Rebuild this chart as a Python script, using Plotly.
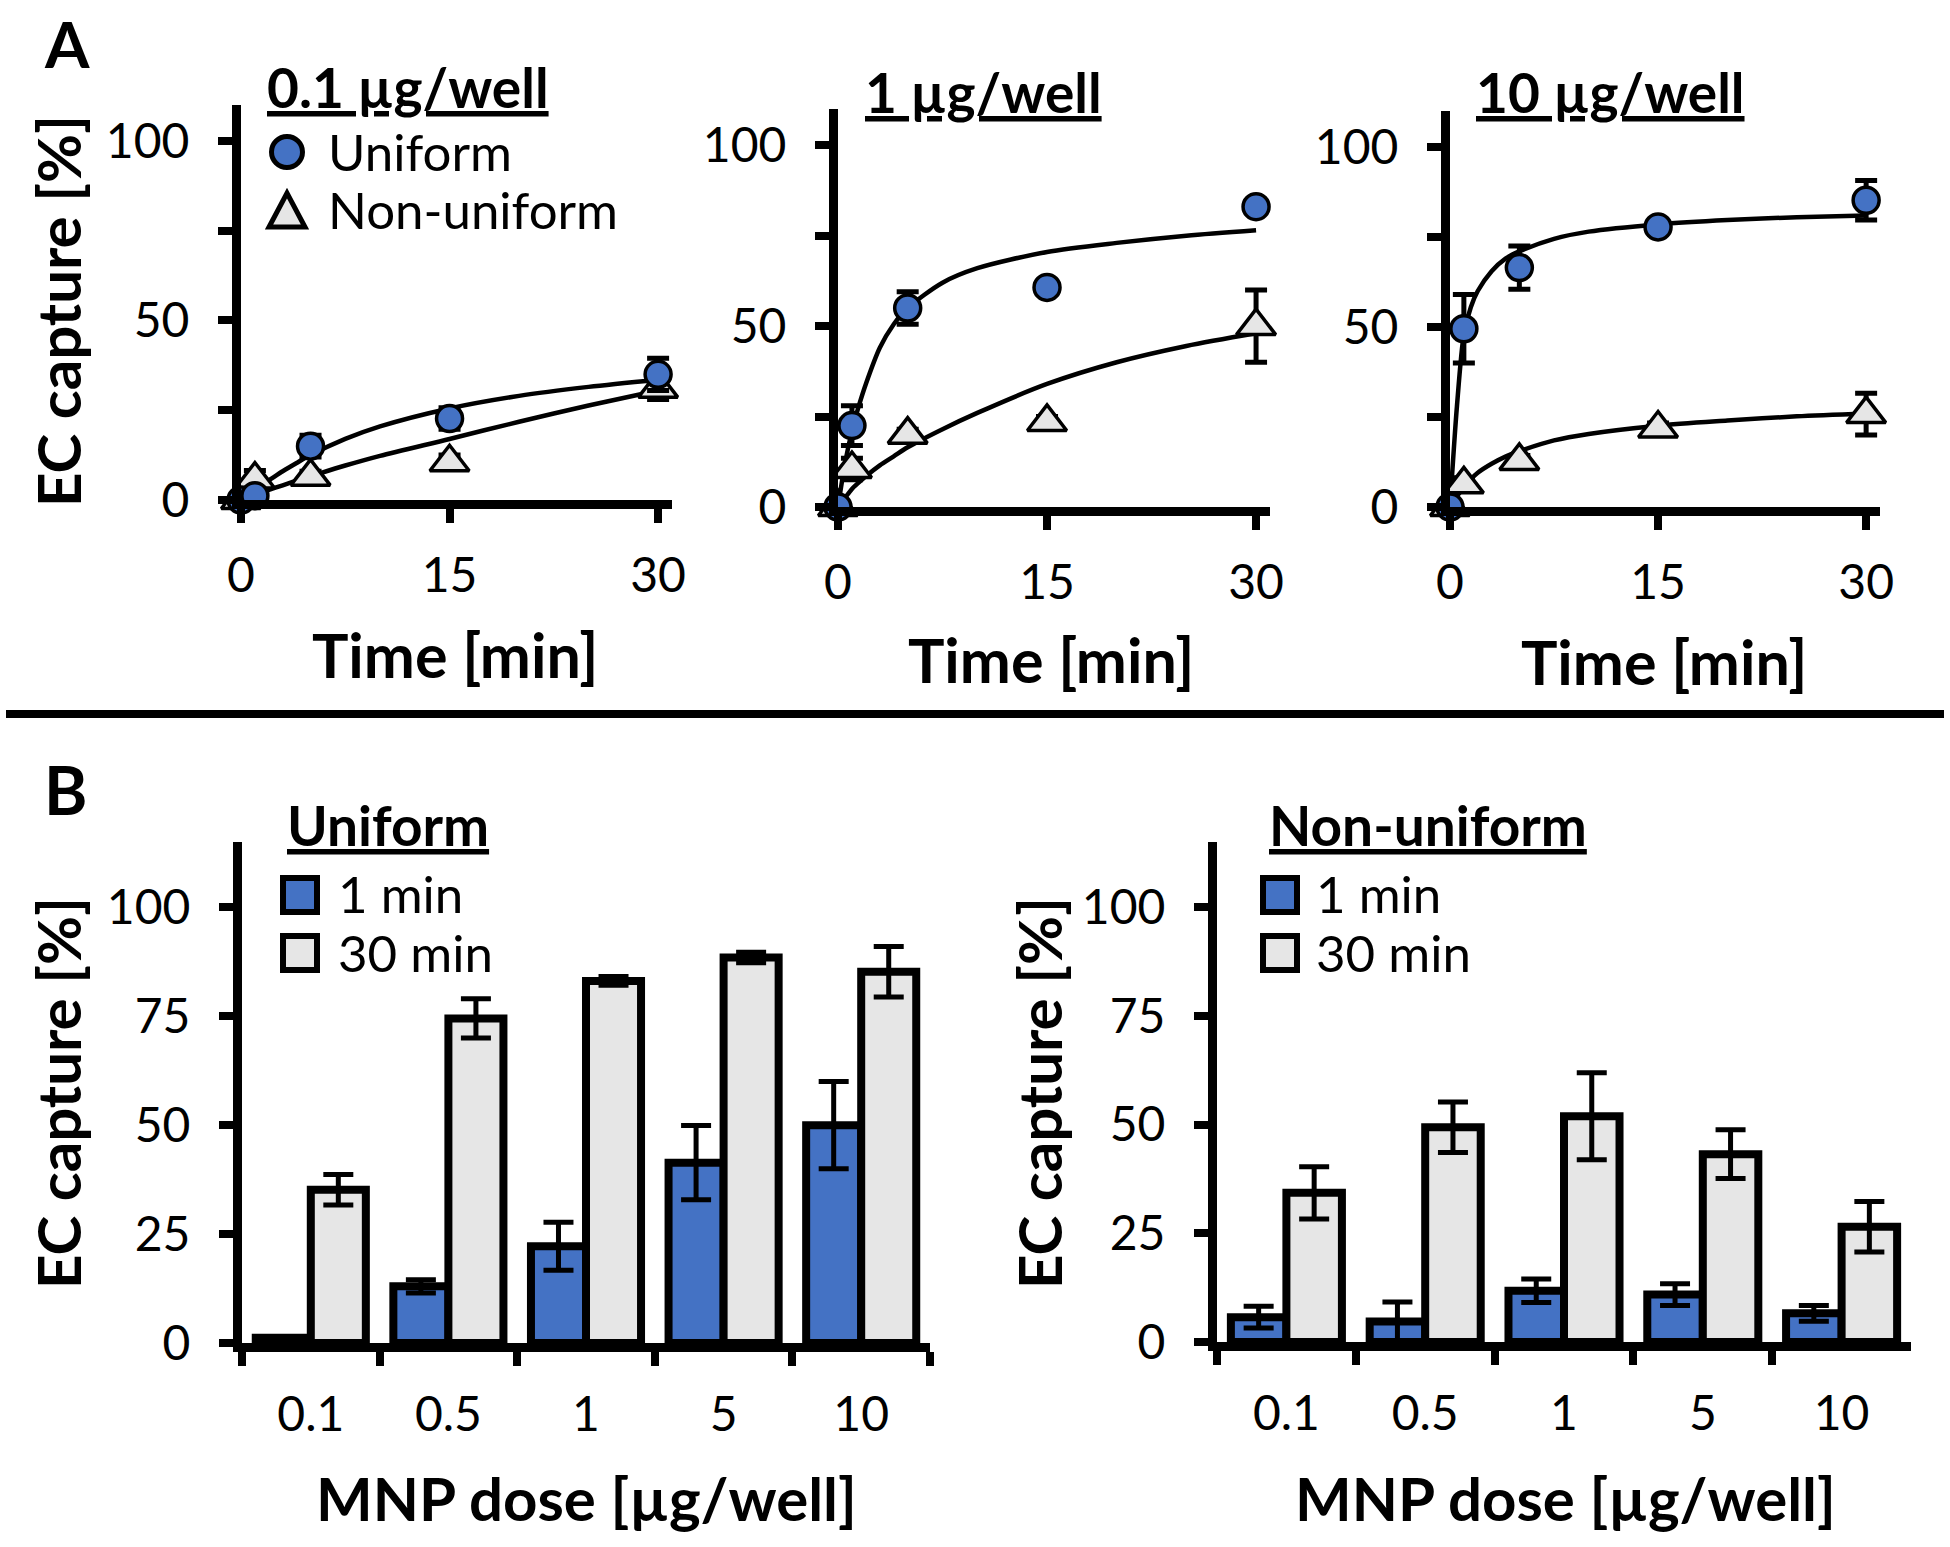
import plotly.graph_objects as go

W, H = 1950, 1547
FONT = "Lato"
BLUE = "#4472C4"
GREY = "#E6E6E6"

# ---------------- data: panel A (time courses) ----------------
t_pts = [0, 1, 5, 15, 30]
t_fit = [0, 0.5, 1, 1.5, 2, 3, 4, 5, 7.5, 10, 15, 20, 25, 30]

a1_uni = [0, 1.2, 15, 22.7, 35]
a1_uni_err = [0, 0.5, 3, 3, 4.5]
a1_non = [0, 5.7, 6.5, 10.5, 31]
a1_non_err = [0, 2.5, 1.5, 2, 3]
a1_uni_fit = [0, 1.6, 3, 4.3, 5.5, 8, 10.3, 12.5, 17, 20.5, 25.5, 29, 31.5, 33.5]
a1_non_fit = [0, 0.7, 1.4, 2.1, 2.8, 4.1, 5.4, 6.6, 9.6, 12.3, 17, 21.8, 26.3, 30.5]

a2_uni = [0, 22.5, 55, 60.7, 83]
a2_uni_err = [0, 5.5, 4.5, 1, 1]
a2_non = [0, 10.5, 20, 23.5, 50]
a2_non_err = [0, 3, 1.5, 1.5, 10]
a2_uni_fit = [0, 12, 21, 28, 34, 44, 50.5, 55, 62, 66, 70.5, 73, 75, 76.5]
a2_non_fit = [0, 2.5, 5, 6.8, 8.5, 11.5, 14, 16.5, 21.5, 26, 34, 40, 44.5, 48]

a3_uni = [0, 49.5, 66.5, 77.8, 85.2]
a3_uni_err = [0, 9.5, 6, 2, 5.5]
a3_non = [0, 6.3, 12.8, 21.8, 25.8]
a3_non_err = [0, 1.8, 1.5, 1.5, 5.8]
a3_uni_fit = [0, 28, 48, 55.5, 60, 65.5, 69, 71, 74.5, 76.5, 78.5, 79.7, 80.5, 81]
a3_non_fit = [0, 3, 5.5, 7.7, 9.5, 12, 14, 15.5, 18.5, 20.3, 22.6, 24, 25.2, 26]

a_titles = ["0.1 µg/well", "1 µg/well", "10 µg/well"]
a_xticks = [0, 15, 30]
a_yticks = [0, 25, 50, 75, 100]
a_yticktext = ["0", "", "50", "", "100"]

# ---------------- data: panel B (bars) ----------------
doses = ["0.1", "0.5", "1", "5", "10"]
b_uni_1 = [1.2, 13, 22.2, 41.4, 50]
b_uni_1_err = [0.3, 1.5, 5.5, 8.5, 10]
b_uni_30 = [35.2, 74.5, 83.1, 88.5, 85.2]
b_uni_30_err = [3.5, 4.5, 1, 1.2, 5.8]
b_non_1 = [5.7, 4.7, 11.8, 10.9, 6.6]
b_non_1_err = [2.5, 4.5, 2.7, 2.5, 1.8]
b_non_30 = [34.3, 49.4, 51.9, 43.2, 26.5]
b_non_30_err = [6, 5.8, 10, 5.6, 5.8]
b_titles = ["Uniform", "Non-uniform"]
b_yticks = [0, 25, 50, 75, 100]


def X(px):
    return px / W


def Y(py):
    return 1 - py / H


fig = go.Figure()

# layout geometry (pixels)
a_dom = [  # (left, right, top, bottom)
    (241, 672, 105, 500),
    (838, 1270, 109, 507),
    (1450, 1880, 111, 507),
]
b_dom = [
    (242, 930, 842, 1343),
    (1217, 1911, 842, 1342),
]

axis_common = dict(
    showline=True, linecolor="black", linewidth=9, mirror=False,
    ticks="outside", ticklen=14, tickwidth=8, tickcolor="black",
    showgrid=False, zeroline=False, automargin=False,
    tickfont=dict(family=FONT, size=48, color="black"),
)

a_data = [
    (a1_uni, a1_uni_err, a1_non, a1_non_err, a1_uni_fit, a1_non_fit),
    (a2_uni, a2_uni_err, a2_non, a2_non_err, a2_uni_fit, a2_non_fit),
    (a3_uni, a3_uni_err, a3_non, a3_non_err, a3_uni_fit, a3_non_fit),
]

for i, (uni, uerr, non, nerr, ufit, nfit) in enumerate(a_data):
    n = i + 1
    xa = "x" if n == 1 else f"x{n}"
    ya = "y" if n == 1 else f"y{n}"
    for fit in (ufit, nfit):
        fig.add_trace(go.Scatter(
            x=t_fit, y=fit, mode="lines", xaxis=xa, yaxis=ya,
            line=dict(color="black", width=4.5, shape="spline", smoothing=0.8),
            hoverinfo="skip"))
    fig.add_trace(go.Scatter(
        x=t_pts, y=non, mode="markers", xaxis=xa, yaxis=ya, cliponaxis=False,
        error_y=dict(type="data", array=nerr, color="black", thickness=5, width=11),
        marker=dict(symbol="triangle-up", size=34, color=GREY,
                    line=dict(color="black", width=3.5))))
    fig.add_trace(go.Scatter(
        x=t_pts, y=uni, mode="markers", xaxis=xa, yaxis=ya, cliponaxis=False,
        error_y=dict(type="data", array=uerr, color="black", thickness=5, width=11),
        marker=dict(symbol="circle", size=26, color=BLUE,
                    line=dict(color="black", width=3.5))))

    l, r, t, b = a_dom[i]
    xkey = "xaxis" if n == 1 else f"xaxis{n}"
    ykey = "yaxis" if n == 1 else f"yaxis{n}"
    fig.update_layout({
        xkey: dict(axis_common, domain=[X(l), X(r)], range=[0, 31], anchor=ya,
                   tickvals=a_xticks, ticklabelstandoff=11),
        ykey: dict(axis_common, domain=[Y(b), Y(t)], range=[0, 110], anchor=xa,
                   tickvals=a_yticks, ticktext=a_yticktext, ticklabelstandoff=19),
    })

b_data = [
    (b_uni_1, b_uni_1_err, b_uni_30, b_uni_30_err),
    (b_non_1, b_non_1_err, b_non_30, b_non_30_err),
]
for j, (v1, e1, v30, e30) in enumerate(b_data):
    n = j + 4
    xa, ya = f"x{n}", f"y{n}"
    for vals, errs, col, og in ((v1, e1, BLUE, "a"), (v30, e30, GREY, "b")):
        fig.add_trace(go.Bar(
            x=doses, y=vals, xaxis=xa, yaxis=ya, offsetgroup=og,
            marker=dict(color=col, line=dict(color="black", width=8)),
            error_y=dict(type="data", array=errs, color="black", thickness=5, width=15),
            cliponaxis=False))
    l, r, t, b = b_dom[j]
    fig.update_layout({
        f"xaxis{n}": dict(axis_common, domain=[X(l), X(r)], anchor=ya,
                          type="category", tickson="boundaries", ticklabelstandoff=21),
        f"yaxis{n}": dict(axis_common, domain=[Y(b), Y(t)], range=[0, 115], anchor=xa,
                          tickvals=b_yticks, ticklabelstandoff=19),
    })

ann = []


def text(x, y, s, size, bold=False, anchor="center", angle=0):
    ann.append(dict(
        x=X(x), y=Y(y), xref="paper", yref="paper", showarrow=False,
        text=f"<b>{s}</b>" if bold else s, textangle=angle,
        xanchor=anchor, yanchor="middle",
        font=dict(family=FONT, size=size, color="black")))


# panel letters
text(67, 43, "A", 64, bold=True)
text(65, 790, "B", 66, bold=True)

# axis titles
text(58, 311, "EC capture [%]", 60, bold=True, angle=-90)
text(58, 1093, "EC capture [%]", 60, bold=True, angle=-90)
text(1039, 1093, "EC capture [%]", 60, bold=True, angle=-90)
text(455, 654, "Time [min]", 61, bold=True)
text(1051, 659, "Time [min]", 61, bold=True)
text(1664, 661, "Time [min]", 61, bold=True)
text(586, 1498, "MNP dose [µg/well]", 60, bold=True)
text(1565, 1498, "MNP dose [µg/well]", 60, bold=True)

# panel titles (underlined)
for cx, cy, s in ((408, 87, a_titles[0]), (983, 92, a_titles[1]), (1610, 92, a_titles[2]),
                  (388, 825, b_titles[0]), (1428, 825, b_titles[1])):
    text(cx, cy, f"<u>{s}</u>", 55, bold=True)

# legend texts
text(326, 152, "Uniform", 51, anchor="left")
text(326, 210, "Non-uniform", 51, anchor="left")
for lx in (336, 1314):
    text(lx, 894, "1 min", 51, anchor="left")
    text(lx, 952, "30 min", 51, anchor="left")

shapes = []
# separator line
shapes.append(dict(type="line", xref="paper", yref="paper",
                   x0=X(6), x1=X(1944), y0=Y(714), y1=Y(714),
                   line=dict(color="black", width=8)))
# legend glyphs panel A
shapes.append(dict(type="circle", xref="paper", yref="paper",
                   x0=X(287 - 15.5), x1=X(287 + 15.5), y0=Y(152 + 15.5), y1=Y(152 - 15.5),
                   fillcolor=BLUE, line=dict(color="black", width=5)))
tri = f"M {X(269)} {Y(227)} L {X(305)} {Y(227)} L {X(287)} {Y(193)} Z"
shapes.append(dict(type="path", xref="paper", yref="paper", path=tri,
                   fillcolor=GREY, line=dict(color="black", width=5)))
# legend glyphs panel B
for cx in (300, 1280):
    for cy, col in ((895, BLUE), (953, GREY)):
        shapes.append(dict(type="rect", xref="paper", yref="paper",
                           x0=X(cx - 17), x1=X(cx + 17), y0=Y(cy + 17), y1=Y(cy - 17),
                           fillcolor=col, line=dict(color="black", width=6)))

fig.update_layout(
    width=W, height=H,
    margin=dict(l=0, r=0, t=0, b=0, pad=0, autoexpand=False),
    paper_bgcolor="white", plot_bgcolor="white",
    showlegend=False, barmode="group", bargap=0.2, bargroupgap=0,
    annotations=ann, shapes=shapes,
    font=dict(family=FONT, color="black"),
)

post = """
var gd = document.getElementById('{plot_id}');
document.documentElement.style.margin = '0';
document.body.style.margin = '0';
document.body.style.padding = '0';
document.documentElement.style.overflow = 'hidden';
document.body.style.overflow = 'hidden';
gd.style.position = 'fixed';
gd.style.left = '0px';
gd.style.top = '0px';
gd.style.overflow = 'hidden';
"""

fig.write_html(
    "out.html",
    config={"staticPlot": True, "displayModeBar": False},
    post_script=post,
)
